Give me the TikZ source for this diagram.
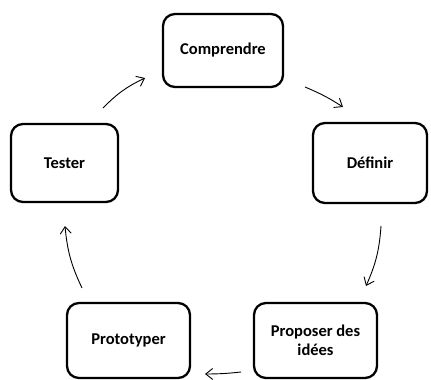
\documentclass[tikz,border=0pt]{standalone}
\usepackage{fontspec}
\setmainfont{Carlito}
\usetikzlibrary{arrows.meta}
\begin{document}
\begin{tikzpicture}[x=1pt,y=-1pt,
  stepbox/.style={draw, line width=2.3pt, rounded corners=12pt, align=center, font=\fontsize{16.5}{19}\selectfont\bfseries, inner sep=0pt},
  flow/.style={line width=0.9pt, -{Straight Barb[length=7pt,width=11pt]}}]
\useasboundingbox (0,0) rectangle (431,380);
\node[stepbox, minimum width=120pt, minimum height=73pt] (c) at (223,50.5) {Comprendre};
\node[stepbox, minimum width=114pt, minimum height=80pt] (d) at (370,163) {Définir};
\node[stepbox, minimum width=123pt, minimum height=75pt] (p) at (315.5,340.5) {Proposer des\\idées};
\node[stepbox, minimum width=123pt, minimum height=75pt] (pr) at (128.5,340.5) {Prototyper};
\node[stepbox, minimum width=107pt, minimum height=78pt] (t) at (64.5,163) {Tester};
\coordinate (a1s) at (103,108); \coordinate (a1e) at (145,78);
\coordinate (a2s) at (305,87); \coordinate (a2e) at (343,107);
\coordinate (a3s) at (381,226); \coordinate (a3e) at (366,286);
\coordinate (a4s) at (241,372); \coordinate (a4e) at (205,374);
\coordinate (a5s) at (82,288); \coordinate (a5e) at (65,226);
\draw[flow] (a1s) to[bend left=10] (a1e);
\draw[flow] (a2s) to[bend left=5] (a2e);
\draw[flow] (a3s) to[bend left=10] (a3e);
\draw[flow] (a4s) to[bend left=3] (a4e);
\draw[flow] (a5s) to[bend left=10] (a5e);
\end{tikzpicture}
\end{document}
